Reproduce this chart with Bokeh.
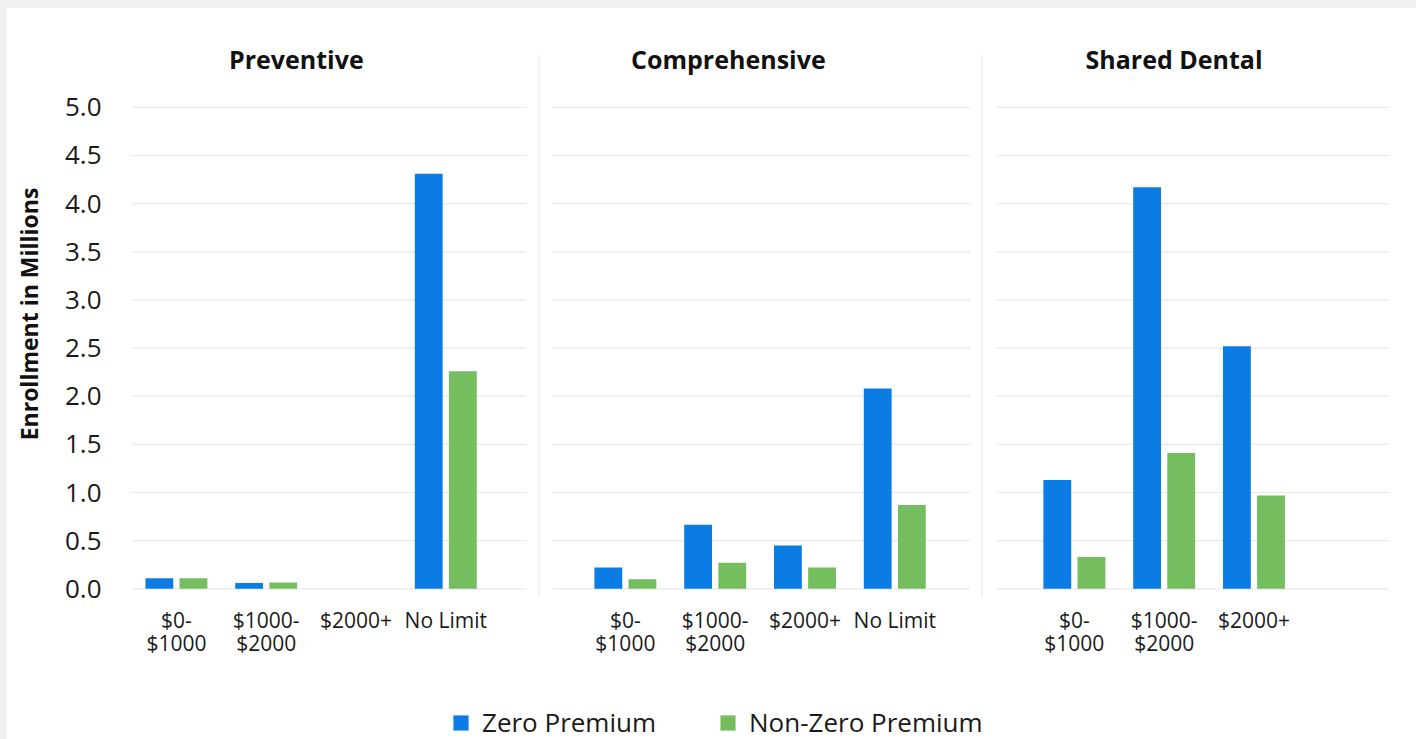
from bokeh.plotting import figure
from bokeh.models import (Range1d, FixedTicker, NumeralTickFormatter, Legend,
                          LegendItem, ColumnDataSource)
from bokeh.layouts import column
from bokeh.core.properties import value
from bokeh.embed import file_html
from bokeh.resources import INLINE

# ---- data -------------------------------------------------------------
panels = ["Preventive", "Comprehensive", "Shared Dental"]
limits = ["$0-\n$1000", "$1000-\n$2000", "$2000+", "No Limit"]

preventive_zero = [0.11, 0.06, 0.0, 4.31]
preventive_nonzero = [0.11, 0.065, 0.0, 2.26]
comprehensive_zero = [0.22, 0.665, 0.45, 2.08]
comprehensive_nonzero = [0.10, 0.27, 0.22, 0.87]
shared_zero = [1.13, 4.17, 2.52]
shared_nonzero = [0.33, 1.41, 0.97]

y_ticks = [0.0, 0.5, 1.0, 1.5, 2.0, 2.5, 3.0, 3.5, 4.0, 4.5, 5.0]
series_names = ["Zero Premium", "Non-Zero Premium"]

# ---- layout of the small multiples on one shared slot axis -------------
BLUE = "#0A7CE3"
GREEN = "#74BE5F"
GRID = "#E9E9E9"
FONT = "Open Sans"

panel_start = [0, 5, 10]                       # slot of each panel's first category
panel_span = [(-0.5, 3.9), (4.19, 8.84), (9.13, 13.5)]
separators = [4.04, 8.97]
title_x = [1.336, 6.147, 11.11]
offset = 0.19
bar_w = 0.31

zero_sets = [preventive_zero, comprehensive_zero, shared_zero]
nonzero_sets = [preventive_nonzero, comprehensive_nonzero, shared_nonzero]

xs, zero_vals, nonzero_vals, tick_pos, tick_lbl = [], [], [], [], []
for start, zs, ns in zip(panel_start, zero_sets, nonzero_sets):
    for i, (z, n) in enumerate(zip(zs, ns)):
        xs.append(start + i)
        zero_vals.append(z)
        nonzero_vals.append(n)
        tick_pos.append(start + i)
        tick_lbl.append(limits[i])

src = ColumnDataSource(dict(
    xz=[x - offset for x in xs], xn=[x + offset for x in xs],
    zero=zero_vals, nonzero=nonzero_vals))

p = figure(width=1409, height=672, output_backend="svg", toolbar_location=None,
           x_range=Range1d(-0.5, 13.81), y_range=Range1d(-0.0903, 5.798),
           min_border_left=124, min_border_right=0, min_border_top=22,
           min_border_bottom=83)
p.outline_line_color = None
p.background_fill_color = "white"
p.border_fill_color = "white"
p.xgrid.visible = False
p.ygrid.visible = False

# horizontal guide lines, one set per panel
gx0, gx1, gy = [], [], []
for a, b in panel_span:
    for t in y_ticks:
        gx0.append(a); gx1.append(b); gy.append(t)
p.segment(x0=gx0, x1=gx1, y0=gy, y1=gy, line_color=GRID, line_width=1.2)

# vertical dividers between panels
p.segment(x0=separators, x1=separators, y0=[-0.08] * 2, y1=[5.54] * 2,
          line_color=GRID, line_width=1.2)

rz = p.vbar(x="xz", top="zero", bottom=0, width=bar_w, source=src,
            fill_color=BLUE, line_color=None)
rn = p.vbar(x="xn", top="nonzero", bottom=0, width=bar_w, source=src,
            fill_color=GREEN, line_color=None)

# panel headings
p.text(x=title_x, y=[5.507] * 3, text=panels, text_align="center",
       text_baseline="middle", text_font=value(FONT), text_font_style="bold",
       text_font_size="25px", text_color="#111111")

# axes
xa = p.xaxis[0]
xa.ticker = FixedTicker(ticks=tick_pos)
xa.major_label_overrides = {pos: lbl for pos, lbl in zip(tick_pos, tick_lbl)}
xa.axis_line_color = None
xa.major_tick_line_color = None
xa.minor_tick_line_color = None
xa.major_label_standoff = 2
xa.major_label_text_font = FONT
xa.major_label_text_font_size = "21px"
xa.major_label_text_color = "#1a1a1a"
xa.major_label_text_line_height = 0.85

ya = p.yaxis[0]
ya.ticker = FixedTicker(ticks=y_ticks)
ya.formatter = NumeralTickFormatter(format="0.0")
ya.axis_line_color = None
ya.major_tick_line_color = None
ya.minor_tick_line_color = None
ya.major_label_standoff = 24
ya.major_label_text_font = FONT
ya.major_label_text_font_size = "26px"
ya.major_label_text_color = "#1a1a1a"
ya.axis_label = "Enrollment in Millions"
ya.axis_label_text_font = FONT
ya.axis_label_text_font_style = "bold"
ya.axis_label_text_font_size = "23px"
ya.axis_label_text_color = "#111111"
ya.axis_label_standoff = 17

# ---- legend strip underneath (its own frame shows no data) --------------
lg = figure(width=1409, height=80, output_backend="svg", toolbar_location=None,
            x_axis_location=None, y_axis_location=None,
            x_range=Range1d(100, 101), y_range=Range1d(100, 101),
            min_border_left=124, min_border_right=0, min_border_top=0,
            min_border_bottom=0)
lg.outline_line_color = None
lg.xgrid.visible = False
lg.ygrid.visible = False
lg.border_fill_color = "white"
kz = lg.vbar(x="xz", top="zero", bottom=0, width=bar_w, source=src,
             fill_color=BLUE, line_color=None)
kn = lg.vbar(x="xn", top="nonzero", bottom=0, width=bar_w, source=src,
             fill_color=GREEN, line_color=None)

legend = Legend(items=[LegendItem(label=series_names[0], renderers=[kz]),
                       LegendItem(label=series_names[1], renderers=[kn])],
                orientation="horizontal", location=(320, 20))
legend.label_text_font = FONT
legend.label_text_font_size = "26px"
legend.label_text_color = "#1a1a1a"
legend.glyph_width = 19
legend.glyph_height = 19
legend.label_standoff = 12
legend.spacing = 62
legend.border_line_color = None
legend.background_fill_alpha = 0
legend.padding = 0
legend.margin = 0
lg.add_layout(legend)

card = column(p, lg, spacing=0, margin=(8, 0, 0, 7),
              styles={"background-color": "white"})
page = column(card, width=1416, styles={"background-color": "#F1F1F1"})

open("out.html", "w").write(file_html(page, INLINE))
